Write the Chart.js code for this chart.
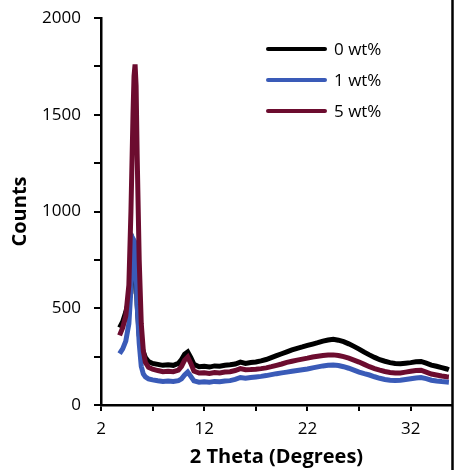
<!DOCTYPE html>
<html>
<head>
<meta charset="utf-8">
<script src="https://cdn.jsdelivr.net/npm/chart.js@4/dist/chart.umd.min.js"></script>
<style>
  html, body { margin: 0; padding: 0; background: #ffffff; }
  #wrap { position: relative; width: 454px; height: 470px; }
</style>
</head>
<body>
<div id="wrap"><canvas id="c" width="454" height="470"></canvas></div>
<script>
// ---- data ----
const seriesNames = ['0 wt%', '1 wt%', '5 wt%'];
const twoTheta = [3.8, 4.1, 4.4, 4.7, 4.9, 5.1, 5.2, 5.3, 5.4, 5.5, 5.7, 5.9, 6.1, 6.3, 6.6, 7.0,
  7.5, 8.0, 8.5, 9.0, 9.5, 9.8, 10.1, 10.4, 10.7, 11.0,
  11.5, 12, 12.5, 13, 13.5, 14, 14.5, 15, 15.5, 16, 16.5, 17, 17.5, 18, 18.5, 19, 19.5, 20, 20.5,
  21, 21.5, 22, 22.5, 23, 23.5, 24, 24.5, 25, 25.5, 26, 26.5, 27, 27.5, 28, 28.5, 29, 29.5, 30,
  30.5, 31, 31.5, 32, 32.5, 33, 33.5, 34, 34.5, 35, 35.5, 35.7];
const counts0 = [400, 430, 480, 540, 580, 760, 820, 800, 680, 520, 360, 310, 275, 245, 225, 215,
  210, 205, 208, 205, 215, 235, 262, 274, 245, 210,
  198, 200, 196, 202, 200, 205, 208, 212, 222, 215, 220, 222, 228, 235, 245, 255, 265, 275, 285,
  293, 300, 308, 315, 322, 330, 336, 340, 335, 327, 316, 303, 289, 273, 259, 246, 234, 226, 219,
  215, 213, 216, 219, 223, 225, 216, 206, 200, 193, 186, 182];
const counts1 = [265, 290, 330, 420, 600, 800, 850, 840, 700, 520, 320, 200, 160, 145, 135, 130,
  125, 122, 124, 122, 126, 135, 155, 170, 148, 125,
  118, 120, 118, 122, 120, 124, 126, 132, 142, 138, 142, 145, 148, 152, 157, 162, 166, 170, 174,
  178, 182, 186, 192, 197, 202, 205, 207, 204, 198, 190, 180, 170, 162, 155, 146, 138, 132, 128,
  127, 128, 132, 136, 140, 142, 136, 128, 124, 121, 119, 118];
const counts5 = [360, 400, 460, 620, 1000, 1500, 1700, 1760, 1650, 1300, 750, 420, 280, 220, 195, 185,
  178, 172, 174, 172, 180, 200, 232, 248, 215, 175,
  165, 166, 163, 168, 166, 170, 172, 178, 188, 182, 183, 185, 188, 192, 198, 205, 212, 220, 226,
  232, 237, 242, 248, 252, 256, 258, 259, 256, 250, 242, 232, 222, 210, 198, 188, 180, 173, 168,
  166, 166, 170, 174, 178, 180, 170, 160, 155, 150, 146, 145];
const xTickValues = [2, 7, 12, 17, 22, 27, 32];
const xLabelTicks = [2, 12, 22, 32];
const yLabelTicks = [0, 500, 1000, 1500, 2000];

const colors = ['#000000', '#3A5BB8', '#6C0C2F'];
const allCounts = [counts0, counts1, counts5];

function toPoints(ys) { return twoTheta.map((x, i) => ({ x: x, y: ys[i] })); }

const datasets = seriesNames.map((name, i) => ({
  label: name,
  data: toPoints(allCounts[i]),
  borderColor: colors[i],
  backgroundColor: colors[i],
  borderWidth: 5,
  pointRadius: 0,
  tension: 0,
  fill: false,
  order: 3 - i
}));

const FONT = "'Open Sans', 'DejaVu Sans', sans-serif";

const legendPlugin = {
  id: 'inlineLegend',
  afterDatasetsDraw(chart) {
    const ctx = chart.ctx;
    ctx.save();
    const x0 = 268, x1 = 325, tx = 334, y0 = 49, dy = 31;
    chart.data.datasets.forEach((ds, i) => {
      const y = y0 + i * dy;
      ctx.strokeStyle = ds.borderColor;
      ctx.lineWidth = 4;
      ctx.lineCap = 'round';
      ctx.beginPath(); ctx.moveTo(x0, y); ctx.lineTo(x1, y); ctx.stroke();
      ctx.fillStyle = '#000';
      ctx.font = '17px ' + FONT;
      ctx.textBaseline = 'middle';
      ctx.textAlign = 'left';
      ctx.fillText(ds.label, tx, y + 1);
    });
    ctx.restore();
  }
};

const edgePlugin = {
  id: 'rightEdge',
  afterDraw(chart) {
    const ctx = chart.ctx;
    ctx.save();
    ctx.strokeStyle = '#000';
    ctx.lineWidth = 2.5;
    ctx.beginPath(); ctx.moveTo(452.5, 0); ctx.lineTo(452.5, 470); ctx.stroke();
    ctx.restore();
  }
};

new Chart(document.getElementById('c'), {
  type: 'line',
  data: { datasets: datasets },
  plugins: [legendPlugin, edgePlugin],
  options: {
    responsive: false,
    animation: false,
    events: [],
    layout: { padding: { left: 0, right: 2, top: 18, bottom: 0 } },
    plugins: { legend: { display: false }, tooltip: { enabled: false } },
    scales: {
      x: {
        type: 'linear',
        min: 2, max: 36,
        afterFit(s) { s.height = 65; s.paddingLeft = 0; s.paddingRight = 0; },
        afterBuildTicks(s) { s.ticks = xTickValues.map(v => ({ value: v })); },
        border: { color: '#000', width: 2.5 },
        grid: { drawOnChartArea: false, drawTicks: true, tickLength: 6, color: '#000', lineWidth: 2 },
        ticks: {
          autoSkip: false, maxRotation: 0,
          padding: 8, color: '#000', font: { family: FONT, size: 17 },
          callback: v => xLabelTicks.includes(v) ? String(v) : ''
        },
        title: {
          display: true, text: '2 Theta (Degrees)', color: '#000',
          font: { family: FONT, size: 20, weight: 'bold' }, padding: { top: 0, bottom: 1 }
        }
      },
      y: {
        min: 0, max: 2000,
        afterFit(s) { s.width = 101; s.paddingTop = 0; s.paddingBottom = 0; },
        border: { color: '#000', width: 2.5 },
        grid: { drawOnChartArea: false, drawTicks: true, tickLength: 7, color: '#000', lineWidth: 2 },
        ticks: {
          stepSize: 250, autoSkip: false, padding: 13, color: '#000',
          font: { family: FONT, size: 17 },
          callback: v => yLabelTicks.includes(v) ? String(v) : ''
        },
        title: {
          display: true, text: 'Counts', color: '#000',
          font: { family: FONT, size: 20, weight: 'bold' }, padding: { top: 8, bottom: 8 }
        }
      }
    }
  }
});
</script>
</body>
</html>
